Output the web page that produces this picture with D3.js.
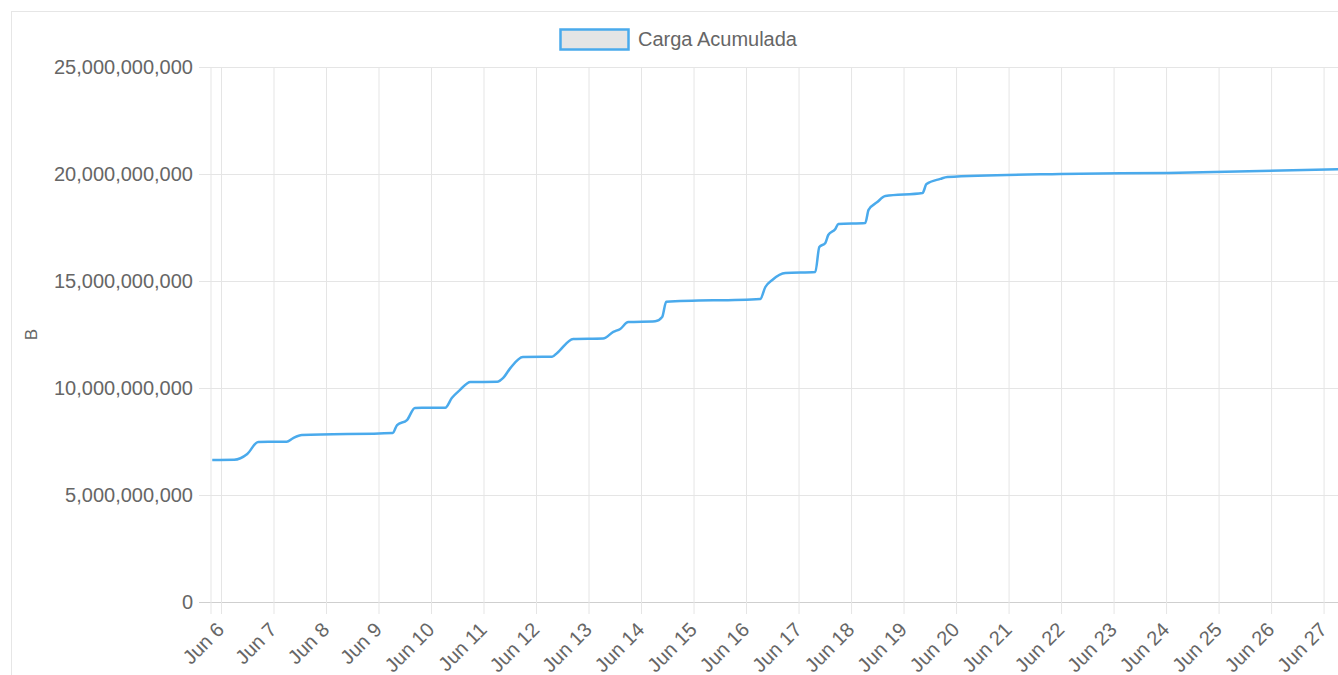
<!DOCTYPE html>
<html>
<head>
<meta charset="utf-8">
<script src="https://cdn.jsdelivr.net/npm/d3@7"></script>
<style>
  html, body { margin: 0; padding: 0; background: #fff; }
  body { width: 1338px; height: 675px; overflow: hidden; }
  .frame { position: absolute; left: 11px; top: 11px; width: 1400px; height: 700px;
           border: 1px solid #e6e6e6; box-sizing: border-box; }
  text { font-family: "Liberation Sans", Arial, Helvetica, sans-serif; fill: #666; }
</style>
</head>
<body>
<div class="frame"></div>
<svg id="chart" width="1338" height="675" style="position:absolute;left:0;top:0"></svg>
<script>
// cumulative load readings (timestamp, bytes)
const times = [
  '2023-06-05 20:00', '2023-06-06 06:00', '2023-06-06 12:00', '2023-06-06 17:00',
  '2023-06-07 06:00', '2023-06-07 09:00', '2023-06-07 13:00', '2023-06-09 06:30',
  '2023-06-09 08:30', '2023-06-09 13:00', '2023-06-09 16:40', '2023-06-10 06:30',
  '2023-06-10 09:30', '2023-06-10 13:15', '2023-06-10 18:00', '2023-06-11 06:15',
  '2023-06-11 09:00', '2023-06-11 12:15', '2023-06-11 18:00', '2023-06-12 07:20',
  '2023-06-12 09:40', '2023-06-12 17:00', '2023-06-13 06:40', '2023-06-13 11:20',
  '2023-06-13 14:30', '2023-06-13 18:10', '2023-06-14 06:30', '2023-06-14 09:40',
  '2023-06-14 11:30', '2023-06-16 06:30', '2023-06-16 08:50', '2023-06-16 12:00',
  '2023-06-16 18:00', '2023-06-17 07:40', '2023-06-17 09:30', '2023-06-17 12:15',
  '2023-06-17 13:35', '2023-06-17 16:50', '2023-06-17 18:10', '2023-06-18 06:30',
  '2023-06-18 08:00', '2023-06-18 12:00', '2023-06-18 15:40', '2023-06-19 08:40',
  '2023-06-19 10:30', '2023-06-19 16:50', '2023-06-19 20:00', '2023-06-21 23:40',
  '2023-06-24 00:40', '2023-06-27 07:30'
];
const cargaAcumulada = [
  6.64e9, 6.65e9, 6.92e9, 7.48e9,
  7.49e9, 7.66e9, 7.80e9, 7.90e9,
  8.27e9, 8.50e9, 9.07e9, 9.08e9,
  9.53e9, 9.91e9, 10.28e9, 10.29e9,
  10.47e9, 10.93e9, 11.45e9, 11.46e9,
  11.64e9, 12.29e9, 12.31e9, 12.62e9,
  12.76e9, 13.08e9, 13.12e9, 13.32e9,
  14.03e9, 14.16e9, 14.72e9, 15.05e9,
  15.37e9, 15.42e9, 16.59e9, 16.78e9,
  17.15e9, 17.43e9, 17.66e9, 17.71e9,
  18.32e9, 18.69e9, 18.97e9, 19.11e9,
  19.53e9, 19.77e9, 19.86e9, 20.00e9,
  20.05e9, 20.22e9
];
const yTicks = [0, 5e9, 10e9, 15e9, 20e9, 25e9];
const seriesLabel = 'Carga Acumulada';
const yTitle = 'B';

const parse = d3.timeParse('%Y-%m-%d %H:%M');
const data = times.map((t, i) => ({ date: parse(t), value: cargaAcumulada[i] }));

const svg = d3.select('#chart');
const plot = { left: 211, right: 1340, top: 67, bottom: 602 };
const gridColor = '#e5e5e5';
const lineColor = '#4aaaec';

const x = d3.scaleTime()
  .domain([parse('2023-06-05 19:26'), parse('2023-06-27 07:30')])
  .range([plot.left, plot.right]);
const y = d3.scaleLinear()
  .domain([0, 25e9])
  .range([plot.bottom, plot.top]);

// horizontal grid + y ticks
const yAxis = svg.append('g')
  .attr('transform', `translate(${plot.left},0)`)
  .call(d3.axisLeft(y).tickValues(yTicks).tickFormat(d3.format(',')).tickSize(12).tickPadding(6));
yAxis.select('.domain').remove();
yAxis.selectAll('.tick line')
  .attr('x2', plot.right - plot.left)
  .attr('x1', -12)
  .attr('stroke', d => d === 0 ? '#cfcfcf' : gridColor);
yAxis.selectAll('.tick text')
  .style('font-size', '20px')
  .attr('fill', '#666');

// vertical grid + x ticks
const dayTicks = d3.timeDay.range(parse('2023-06-06 00:00'), parse('2023-06-27 12:00'));
const xAxis = svg.append('g')
  .attr('transform', `translate(0,${plot.bottom})`)
  .call(d3.axisBottom(x).tickValues(dayTicks).tickFormat(d3.timeFormat('%b %-d')).tickSize(12));
xAxis.select('.domain').remove();
xAxis.selectAll('.tick line')
  .attr('y1', plot.top - plot.bottom)
  .attr('y2', 12)
  .attr('stroke', gridColor);
xAxis.selectAll('.tick text')
  .style('font-size', '20px')
  .attr('text-anchor', 'end')
  .attr('dy', null)
  .attr('y', 0)
  .attr('transform', 'translate(4,29) rotate(-45)');

// left axis line
svg.append('line')
  .attr('x1', plot.left).attr('x2', plot.left)
  .attr('y1', plot.top).attr('y2', plot.bottom + 12)
  .attr('stroke', gridColor);

// y title
svg.append('text')
  .attr('transform', `translate(37,${(plot.top + plot.bottom) / 2}) rotate(-90)`)
  .attr('text-anchor', 'middle')
  .style('font-size', '17px')
  .text(yTitle);

// series line
const line = d3.line()
  .x(d => x(d.date))
  .y(d => y(d.value))
  .curve(d3.curveMonotoneX);
svg.append('path')
  .datum(data)
  .attr('fill', 'none')
  .attr('stroke', lineColor)
  .attr('stroke-width', 2.5)
  .attr('d', line);

// legend
const legend = svg.append('g').attr('transform', 'translate(560,29)');
legend.append('rect')
  .attr('x', 0.5).attr('y', 0.5)
  .attr('width', 68).attr('height', 20)
  .attr('fill', '#e5e5e5')
  .attr('stroke', lineColor)
  .attr('stroke-width', 2.5);
legend.append('text')
  .attr('x', 78).attr('y', 17)
  .style('font-size', '20px')
  .text(seriesLabel);
</script>
</body>
</html>
